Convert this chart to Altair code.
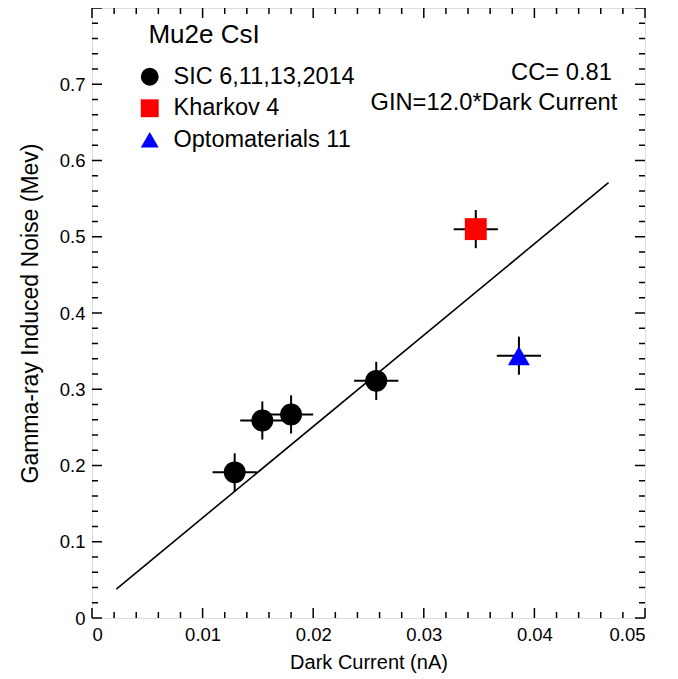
import altair as alt
import pandas as pd

# ---- data ----
series = ["SIC 6,11,13,2014", "Kharkov 4", "Optomaterials 11"]
colors = ["#000000", "#ff0000", "#0000ff"]
shapes = ["circle", "square", "triangle-up"]

pt_series = ["SIC 6,11,13,2014"] * 4 + ["Kharkov 4", "Optomaterials 11"]
dark_current = [0.0129, 0.0154, 0.0180, 0.0257, 0.0347, 0.0386]
noise = [0.191, 0.259, 0.267, 0.311, 0.510, 0.344]
x_err = [0.002, 0.002, 0.002, 0.002, 0.002, 0.002]
y_err = [0.025, 0.025, 0.025, 0.025, 0.025, 0.025]

fit_x = [0.0022, 0.0467]
fit_y = [0.038, 0.571]

x_major = [0, 0.01, 0.02, 0.03, 0.04, 0.05]
y_major = [0, 0.1, 0.2, 0.3, 0.4, 0.5, 0.6, 0.7, 0.8]
x_minor = [round(i * 0.002, 3) for i in range(26) if i % 5]
y_minor = [round(i * 0.02, 2) for i in range(41) if i % 5]

ann_text = ["CC= 0.81", "GIN=12.0*Dark Current"]
ann_x = [0.0470, 0.0475]
ann_y = [0.7148, 0.6754]

title_text = ["Mu2e CsI"]
title_x = [0.0051]
title_y = [0.7646]

W, H = 553, 610
FONT = "Liberation Sans"

pts = pd.DataFrame({
    "series": pt_series,
    "x": dark_current,
    "y": noise,
    "x_lo": [a - b for a, b in zip(dark_current, x_err)],
    "x_hi": [a + b for a, b in zip(dark_current, x_err)],
    "y_lo": [a - b for a, b in zip(noise, y_err)],
    "y_hi": [a + b for a, b in zip(noise, y_err)],
})
fit = pd.DataFrame({"x": fit_x, "y": fit_y})
ann = pd.DataFrame({"t": ann_text, "x": ann_x, "y": ann_y})
ttl = pd.DataFrame({"t": title_text, "x": title_x, "y": title_y})

xs = alt.Scale(domain=[0, 0.05], nice=False, zero=False)
ys = alt.Scale(domain=[0, 0.8], nice=False, zero=False)
xa = alt.Axis(values=x_major, format="~g", tickSize=0, domain=False, grid=False,
              labelFontSize=18.5, labelPadding=7, labelFont=FONT,
              title="Dark Current (nA)", titleFontSize=20, titleFontWeight="normal",
              titleFont=FONT, titlePadding=9, titleColor="#000", labelColor="#000")
ya = alt.Axis(values=y_major[:-1], format="~g", tickSize=0, domain=False, grid=False,
              labelFontSize=18.5, labelPadding=7, labelFont=FONT,
              title="Gamma-ray Induced Noise (Mev)", titleFontSize=23,
              titleFontWeight="normal", titleFont=FONT, titlePadding=17,
              titleColor="#000", labelColor="#000")

X = lambda f: alt.X(f, type="quantitative", scale=xs, axis=xa)
Y = lambda f: alt.Y(f, type="quantitative", scale=ys, axis=ya)

fit_line = alt.Chart(fit).mark_line(color="black", strokeWidth=1.6).encode(
    x=X("x"), y=Y("y"))

hbar = alt.Chart(pts).mark_rule(color="black", strokeWidth=2).encode(
    x=X("x_lo"), x2="x_hi", y=Y("y"))
vbar = alt.Chart(pts).mark_rule(color="black", strokeWidth=2).encode(
    x=X("x"), y=Y("y_lo"), y2="y_hi")

points = alt.Chart(pts).mark_point(filled=True, opacity=1, size=480).encode(
    x=X("x"), y=Y("y"),
    color=alt.Color("series:N", scale=alt.Scale(domain=series, range=colors),
                    legend=alt.Legend(title=None, orient="none", legendX=46, legendY=57,
                                      labelFontSize=23.5, labelFont=FONT, labelColor="#000",
                                      labelLimit=0, symbolSize=320, symbolOpacity=1,
                                      labelOffset=12, rowPadding=6.5, padding=0,
                                      symbolStrokeWidth=0)),
    shape=alt.Shape("series:N", scale=alt.Scale(domain=series, range=shapes)),
)

def tick_df(vals):
    return pd.DataFrame({"v": vals})

ticks = []
for vals, ln in ((x_major, 10), (x_minor, 6)):
    d = tick_df(vals)
    ticks.append(alt.Chart(d).mark_rule(color="black", strokeWidth=1.5).encode(
        x=X("v"), y=alt.value(H), y2=alt.value(H - ln)))
    ticks.append(alt.Chart(d).mark_rule(color="black", strokeWidth=1.5).encode(
        x=X("v"), y=alt.value(0), y2=alt.value(ln)))
for vals, ln in ((y_major, 10), (y_minor, 6)):
    d = tick_df(vals)
    ticks.append(alt.Chart(d).mark_rule(color="black", strokeWidth=1.5).encode(
        y=Y("v"), x=alt.value(0), x2=alt.value(ln)))
    ticks.append(alt.Chart(d).mark_rule(color="black", strokeWidth=1.5).encode(
        y=Y("v"), x=alt.value(W), x2=alt.value(W - ln)))

ann_layer = alt.Chart(ann).mark_text(align="right", baseline="middle", fontSize=23.7,
                                     font=FONT, color="black").encode(
    x=X("x"), y=Y("y"), text="t:N")
title_layer = alt.Chart(ttl).mark_text(align="left", baseline="middle", fontSize=26,
                                       font=FONT, color="black").encode(
    x=X("x"), y=Y("y"), text="t:N")

chart = alt.layer(*ticks, fit_line, hbar, vbar, points, ann_layer, title_layer).properties(
    width=W, height=H,
    autosize=alt.AutoSizeParams(type="none"),
    padding={"left": 84, "top": 0, "right": 20, "bottom": 60},
).configure_view(stroke="black", strokeWidth=2).configure(background="white")

chart.save("out.html", embed_options={"renderer": "svg", "actions": False})
